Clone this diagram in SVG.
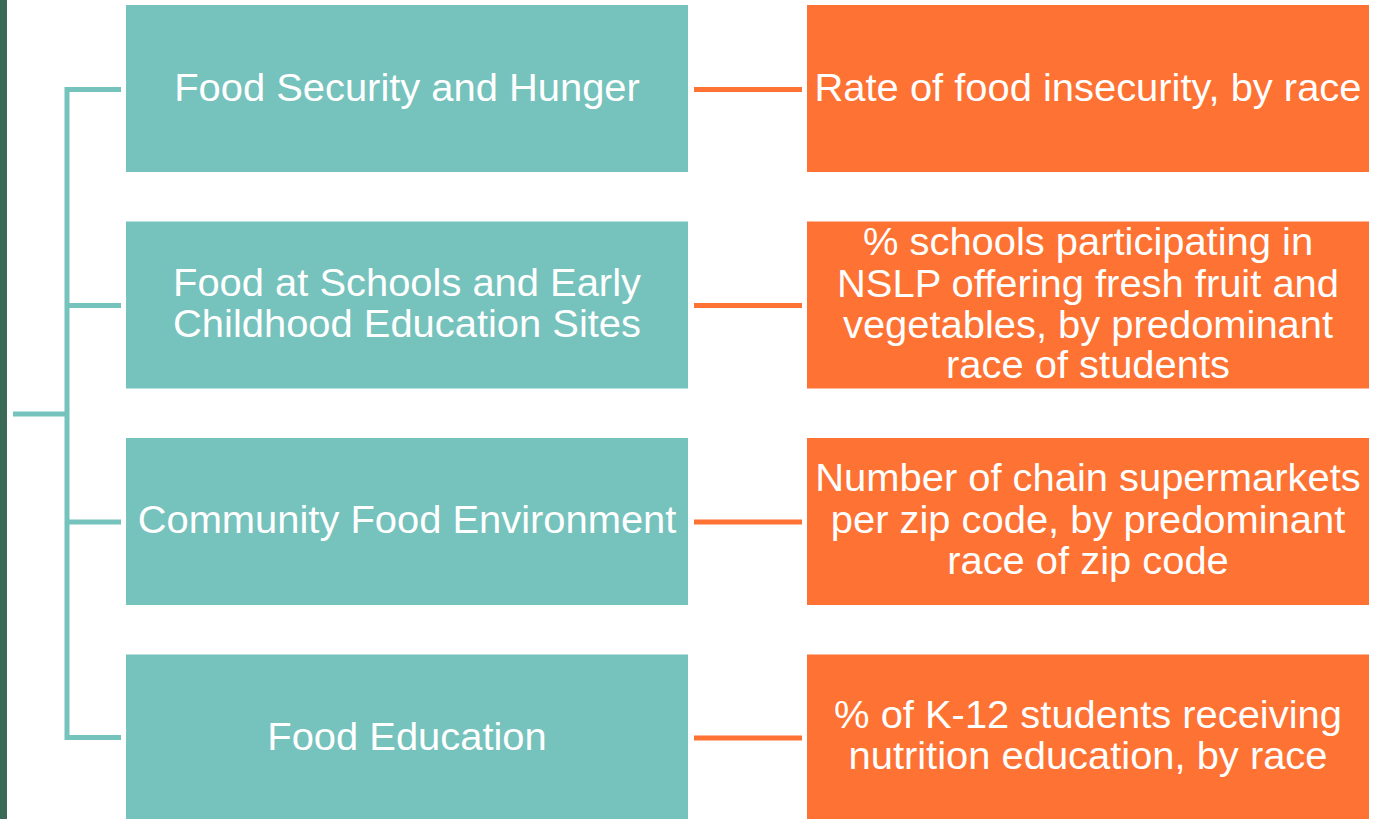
<svg xmlns="http://www.w3.org/2000/svg" width="1373" height="819" viewBox="0 0 1373 819">
<style>
.t{fill:#76c2bc}
.o{fill:#fe7233}
.lbl{font-family:"Liberation Sans",Arial,sans-serif;font-size:38px;fill:#ffffff;text-anchor:middle}
.tl{fill:none;stroke:#76c2bc;stroke-width:5}
.ol{fill:none;stroke:#fe7233;stroke-width:5}
</style>
<rect width="1373" height="819" fill="#ffffff"/>
<rect x="0" y="0" width="7" height="819" fill="#3a6a55"/>
<g id="connectors">
<path class="tl" d="M121,89.5 H67 V737.5 H121"/>
<path class="tl" d="M67,305.5 H121 M67,522 H121 M67,414 H13"/>
<path class="ol" d="M694,89.5 H802 M694,305.5 H802 M694,522 H802 M694,738 H802"/>
</g>
<g id="n1">
<rect class="t" x="126" y="5" width="562" height="167"/>
<g transform="translate(407,1.5) scale(1.05,1)"><text class="lbl" x="0" y="100">Food Security and Hunger</text></g>
</g>
<g id="n2">
<rect class="t" x="126" y="221.5" width="562" height="167"/>
<g transform="translate(407,1.5) scale(1.05,1)"><text class="lbl" x="0" y="295">Food at Schools and Early</text><text class="lbl" x="0" y="336">Childhood Education Sites</text></g>
</g>
<g id="n3">
<rect class="t" x="126" y="438" width="562" height="167"/>
<g transform="translate(407,1.5) scale(1.05,1)"><text class="lbl" x="0" y="532">Community Food Environment</text></g>
</g>
<g id="n4">
<rect class="t" x="126" y="654.5" width="562" height="167"/>
<g transform="translate(407,1.5) scale(1.05,1)"><text class="lbl" x="0" y="749">Food Education</text></g>
</g>
<g id="m1">
<rect class="o" x="807" y="5" width="562" height="167"/>
<g transform="translate(1088,1.5) scale(1.05,1)"><text class="lbl" x="0" y="100">Rate of food insecurity, by race</text></g>
</g>
<g id="m2">
<rect class="o" x="807" y="221.5" width="562" height="167"/>
<g transform="translate(1088,1.5) scale(1.05,1)"><text class="lbl" x="0" y="254">% schools participating in</text><text class="lbl" x="0" y="296">NSLP offering fresh fruit and</text><text class="lbl" x="0" y="337">vegetables, by predominant</text><text class="lbl" x="0" y="377">race of students</text></g>
</g>
<g id="m3">
<rect class="o" x="807" y="438" width="562" height="167"/>
<g transform="translate(1088,1.5) scale(1.05,1)"><text class="lbl" x="0" y="490">Number of chain supermarkets</text><text class="lbl" x="0" y="532">per zip code, by predominant</text><text class="lbl" x="0" y="573">race of zip code</text></g>
</g>
<g id="m4">
<rect class="o" x="807" y="654.5" width="562" height="167"/>
<g transform="translate(1088,1.5) scale(1.05,1)"><text class="lbl" x="0" y="727">% of K-12 students receiving</text><text class="lbl" x="0" y="768">nutrition education, by race</text></g>
</g>
</svg>
